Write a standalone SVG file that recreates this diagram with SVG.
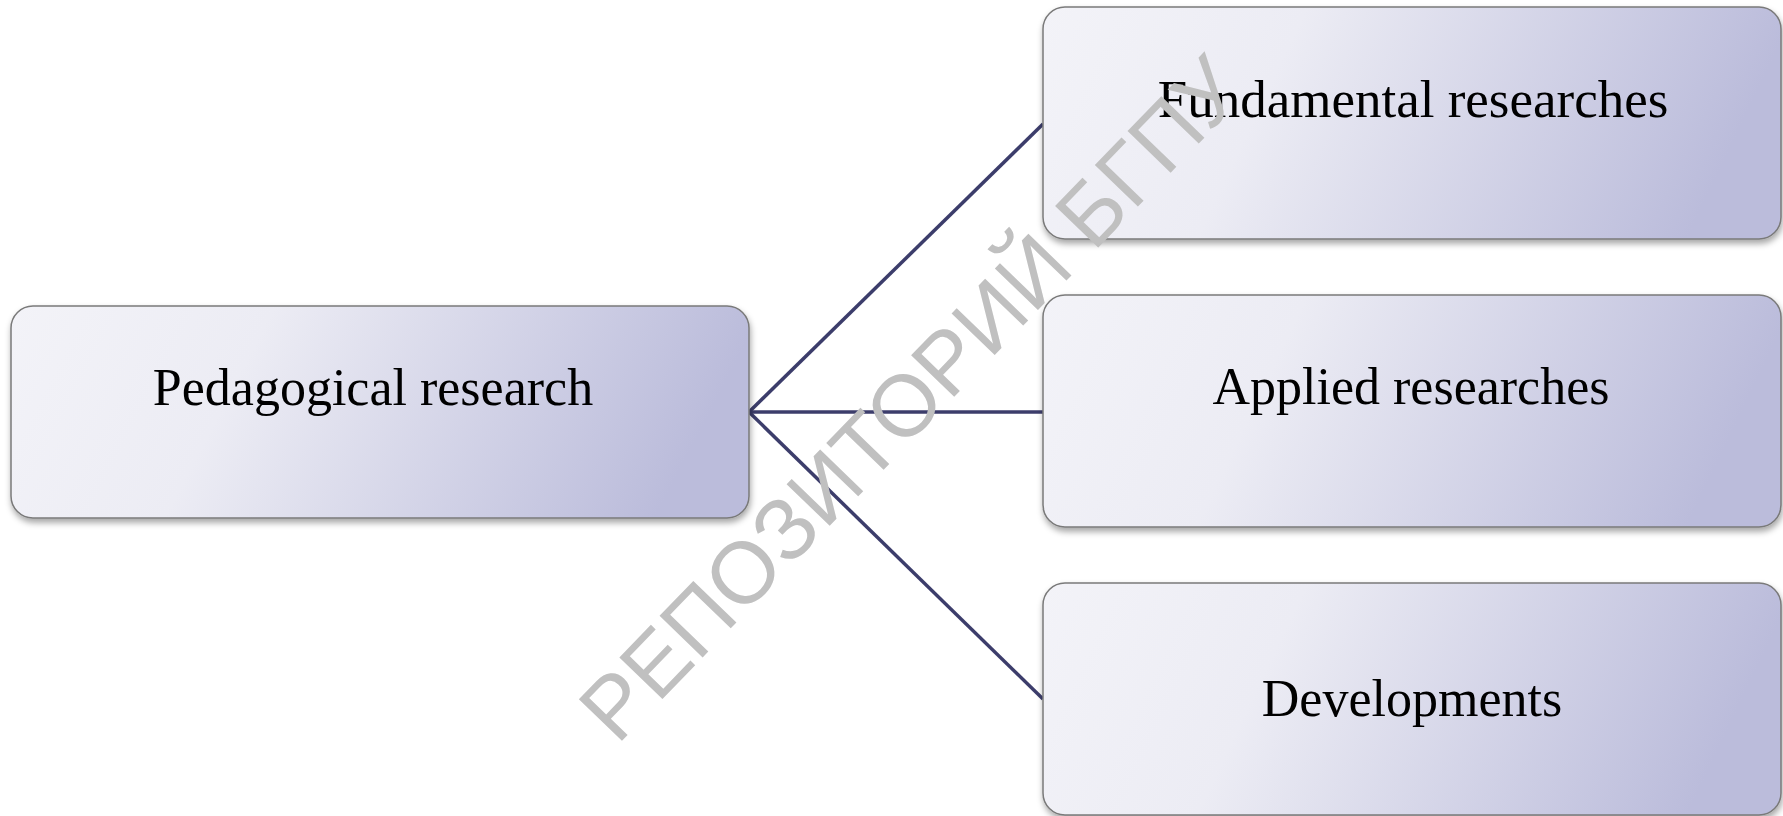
<svg xmlns="http://www.w3.org/2000/svg" width="1783" height="816" viewBox="0 0 1783 816">
<defs>
<linearGradient id="g" x1="0" y1="0" x2="1" y2="0.15">
<stop offset="0" stop-color="#f3f3f8"/>
<stop offset="0.35" stop-color="#ececf4"/>
<stop offset="1" stop-color="#bbbcdb"/>
</linearGradient>
<filter id="sh" x="-5%" y="-5%" width="110%" height="115%">
<feDropShadow dx="1" dy="4" stdDeviation="3" flood-color="#000" flood-opacity="0.35"/>
</filter>
<style>
.box{fill:url(#g);stroke:#7a7a7a;stroke-width:1.5;filter:url(#sh)}
.lbl{font-family:"Liberation Serif","DejaVu Serif",serif;font-size:52px;fill:#000;text-anchor:middle}
.con{stroke:#3c3d6b;stroke-width:3.5;fill:none}
.wm{font-family:"Liberation Sans","DejaVu Sans",sans-serif;font-size:87px;fill:#c0c0c0;text-anchor:middle}
</style>
</defs>
<rect width="1783" height="816" fill="#fff"/>
<g id="connectors">
<line class="con" x1="749" y1="412" x2="1043" y2="124"/>
<line class="con" x1="749" y1="412" x2="1043" y2="412"/>
<line class="con" x1="749" y1="412" x2="1043" y2="699"/>
</g>
<g id="node-pedagogical">
<rect class="box" x="11" y="306" width="738" height="212" rx="22"/>
<text class="lbl" x="373" y="405">Pedagogical research</text>
</g>
<g id="node-fundamental">
<rect class="box" x="1043" y="7" width="738" height="232" rx="22"/>
<text class="lbl" x="1413" y="117" style="font-size:53px">Fundamental researches</text>
</g>
<g id="node-applied">
<rect class="box" x="1043" y="295" width="738" height="232" rx="22"/>
<text class="lbl" x="1411" y="404">Applied researches</text>
</g>
<g id="node-developments">
<rect class="box" x="1043" y="583" width="738" height="232" rx="22"/>
<text class="lbl" x="1412" y="716">Developments</text>
</g>
<text class="wm" transform="translate(910 398) rotate(-46)" x="0" y="31">РЕПОЗИТОРИЙ БГПУ</text>
</svg>
